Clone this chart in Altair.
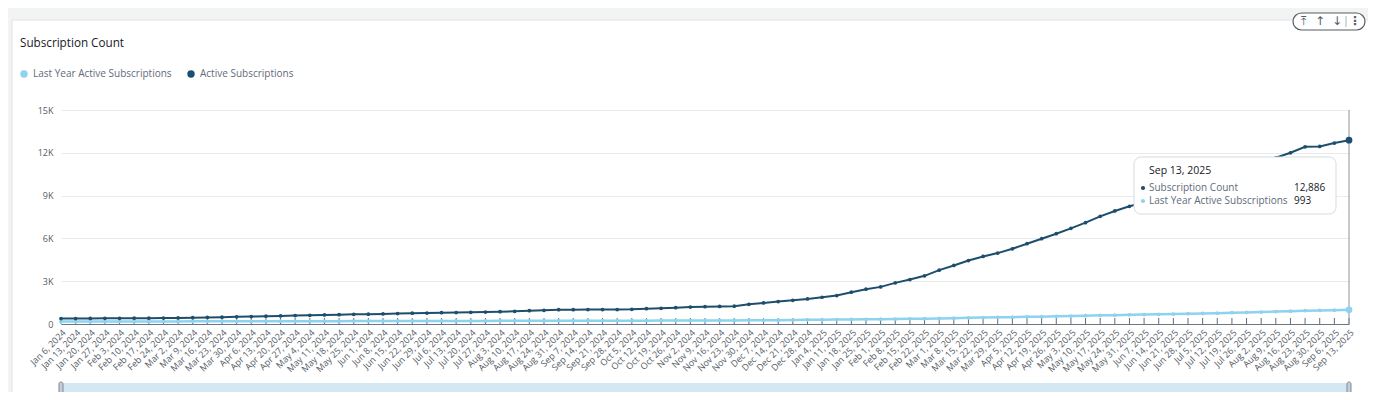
import altair as alt
import pandas as pd

# ---------------- data ----------------
dates = pd.date_range("2024-01-06", periods=89, freq="7D")
date_labels = [f"{d.strftime('%b')} {d.day}, {d.year}" for d in dates]

active_subscriptions = [
    380, 385, 390, 395, 400, 405, 410, 415, 425, 440,
    460, 480, 500, 520, 545, 565, 590, 610, 635, 655,
    675, 690, 705, 730, 755, 770, 795, 800, 815, 840,
    865, 890, 935, 960, 1000, 1005, 1008, 1010, 1012, 1030,
    1075, 1100, 1145, 1190, 1215, 1230, 1250, 1383, 1477, 1570,
    1664, 1758, 1875, 1992, 2227, 2438, 2602, 2883, 3118, 3376,
    3774, 4102, 4450, 4735, 4970, 5274, 5626, 5977, 6329, 6704,
    7103, 7548, 7923, 8251, 8520, 8850, 9200, 9580, 9950, 10300,
    10700, 11050, 11350, 11650, 12000, 12420, 12450, 12680, 12886,
]

last_year_active = [
    170, 172, 174, 175, 177, 178, 180, 181, 183, 185,
    186, 188, 190, 191, 193, 195, 196, 198, 200, 201,
    203, 205, 206, 208, 210, 211, 213, 215, 216, 218,
    220, 221, 223, 225, 226, 228, 230, 231, 233, 235,
    236, 238, 240, 242, 244, 246, 250, 255, 260, 270,
    280, 290, 300, 310, 320, 330, 340, 350, 360, 375,
    390, 410, 430, 450, 465, 480, 500, 515, 535, 560,
    585, 605, 620, 640, 660, 680, 700, 720, 740, 760,
    790, 810, 840, 870, 900, 930, 950, 970, 993,
]

y_ticks = [0, 3000, 6000, 9000, 12000, 15000]

title_text = "Subscription Count"
legend_labels = ["Last Year Active Subscriptions", "Active Subscriptions"]
tooltip_date = "Sep 13, 2025"
tooltip_rows = ["Subscription Count", "Last Year Active Subscriptions"]
tooltip_values = ["12,886", "993"]

df = pd.DataFrame({"date": date_labels, "active": active_subscriptions, "last": last_year_active})
last_row = df.tail(1)
one = pd.DataFrame({"k": [0]})

# ---------------- style ----------------
FONT = "Open Sans"
DARK = "#1d4e6c"
LIGHT = "#8dd2ee"
GRAY_TXT = "#5f6b7a"
AX_TXT = "#545b64"
INK = "#16191f"
W, H = 1288, 214

xscale = alt.Scale(type="point", padding=0)
yscale = alt.Scale(domain=[0, 15000], nice=False)

x_axis = alt.Axis(
    title=None, labelAngle=-45, labelAlign="right", labelFontSize=9,
    labelColor=AX_TXT, labelOverlap=False, ticks=False, domainColor="#6b7683",
    labelPadding=4, labelFont=FONT, labelBound=False,
)
y_axis = alt.Axis(
    title=None, values=y_ticks,
    labelExpr="datum.value == 0 ? '0' : (datum.value / 1000) + 'K'",
    ticks=False, domain=False, gridColor="#e9ebed", labelFontSize=9,
    labelColor=AX_TXT, labelPadding=8, labelFont=FONT,
)

X = alt.X("date:N", sort=date_labels, scale=xscale, axis=x_axis)
Y_act = alt.Y("active:Q", scale=yscale, axis=y_axis)
Y_last = alt.Y("last:Q", scale=yscale, axis=y_axis)

base = alt.Chart(df)

# frame strips (page background)
strip_top = alt.Chart(one).mark_rect(fill="#f2f3f3").encode(
    x=alt.value(-53), x2=alt.value(W + 19), y=alt.value(-102), y2=alt.value(-90))
strip_left = alt.Chart(one).mark_rect(fill="#f2f3f3").encode(
    x=alt.value(-53), x2=alt.value(-49), y=alt.value(-102), y2=alt.value(H + 68))
card_top = alt.Chart(one).mark_rule(color="#dfe3e6").encode(
    x=alt.value(-49), x2=alt.value(W + 19), y=alt.value(-90))
card_left = alt.Chart(one).mark_rule(color="#dfe3e6").encode(
    x=alt.value(-49), y=alt.value(-90), y2=alt.value(H + 68))

# inward x ticks
ticks = base.mark_rule(color="#5f6b7a", strokeWidth=1).encode(
    x=X, y=alt.value(H - 6), y2=alt.value(H))

light_line = base.mark_line(color=LIGHT, strokeWidth=2.5).encode(x=X, y=Y_last)
light_pts = base.mark_circle(color=LIGHT, size=14, opacity=1).encode(x=X, y=Y_last)
dark_line = base.mark_line(color=DARK, strokeWidth=2).encode(x=X, y=Y_act)
dark_pts = base.mark_circle(color=DARK, size=14, opacity=1).encode(x=X, y=Y_act)

hover_rule = alt.Chart(last_row).mark_rule(color="#8c939c", strokeWidth=1).encode(
    x=X, y=alt.value(0), y2=alt.value(H))
hl_dark = alt.Chart(last_row).mark_circle(color=DARK, size=45, opacity=1).encode(x=X, y=Y_act)
hl_light = alt.Chart(last_row).mark_circle(color=LIGHT, size=45, opacity=1).encode(x=X, y=Y_last)


def txt(s, x, y, size=10, color=GRAY_TXT, weight="normal", align="left", font=FONT):
    return alt.Chart(one).mark_text(
        text=s, align=align, baseline="middle", fontSize=size, color=color,
        fontWeight=weight, font=font).encode(x=alt.value(x), y=alt.value(y))


def dot(x, y, color, size):
    return alt.Chart(one).mark_point(filled=True, shape="circle", size=size, color=color, opacity=1).encode(
        x=alt.value(x), y=alt.value(y))


# title & legend
title = txt(title_text, -41, -67, size=11.7, color=INK, weight=500)
leg = [
    dot(-37, -36, LIGHT, 55), txt(legend_labels[0], -28, -36),
    dot(130, -36, DARK, 55), txt(legend_labels[1], 139, -36),
]

# tooltip
tip_box = alt.Chart(one).mark_rect(fill="white", stroke="#d5dbdb", cornerRadius=7, strokeWidth=1).encode(
    x=alt.value(1073), x2=alt.value(1275), y=alt.value(47), y2=alt.value(104))
tip = [
    tip_box,
    txt(tooltip_date, 1088, 61, size=10.5, color=INK),
    dot(1082, 78, DARK, 18), txt(tooltip_rows[0], 1088, 78),
    txt(tooltip_values[0], 1233, 78, color=INK),
    dot(1082, 91, LIGHT, 18), txt(tooltip_rows[1], 1088, 91),
    txt(tooltip_values[1], 1233, 91, color=INK),
]

# scrollbar
scroll = alt.Chart(one).mark_rect(fill="#d4e8f4", cornerRadius=2).encode(
    x=alt.value(0), x2=alt.value(W), y=alt.value(273), y2=alt.value(285))
h1 = alt.Chart(one).mark_rect(fill="#c4ced8", stroke="#7d8998", cornerRadius=2).encode(
    x=alt.value(-2), x2=alt.value(2), y=alt.value(272), y2=alt.value(286))
h2 = alt.Chart(one).mark_rect(fill="#c4ced8", stroke="#7d8998", cornerRadius=2).encode(
    x=alt.value(W - 2), x2=alt.value(W + 2), y=alt.value(272), y2=alt.value(286))

# top-right control pill
pill = alt.Chart(one).mark_rect(fill="white", stroke="#545b64", cornerRadius=9, strokeWidth=1.2).encode(
    x=alt.value(1232), x2=alt.value(1304), y=alt.value(-97), y2=alt.value(-80))
pill_div = alt.Chart(one).mark_rule(color="#aab7b8").encode(
    x=alt.value(1285), y=alt.value(-94), y2=alt.value(-83))
pill_txt = [
    txt("⤒", 1242, -89, size=12, color="#545b64", align="center", font="DejaVu Sans"),
    txt("↑", 1259, -89, size=12, color="#545b64", align="center", font="DejaVu Sans"),
    txt("↓", 1276, -89, size=12, color="#545b64", align="center", font="DejaVu Sans"),
    txt("⋮", 1294, -89, size=12, color="#545b64", align="center", font="DejaVu Sans", weight="bold"),
]

chart = alt.layer(
    strip_top, strip_left, card_top, card_left,
    light_line, ticks, light_pts, dark_line, dark_pts,
    hover_rule, hl_light, hl_dark,
    title, *leg, *tip, scroll, h1, h2, pill, pill_div, *pill_txt,
).properties(
    width=W, height=H,
    padding={"left": 53, "top": 102, "right": 19, "bottom": 68},
    autosize=alt.AutoSizeParams(type="none"),
    background="white",
).configure_view(stroke=None)

chart.save("out.html", embed_options={"renderer": "svg", "actions": False})
